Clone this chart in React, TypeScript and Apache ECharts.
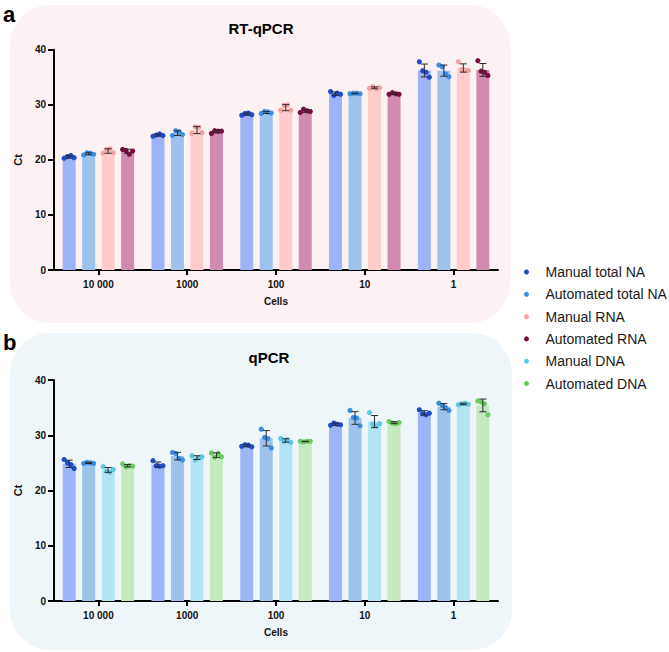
import React, { useEffect, useRef } from "react";
import * as echarts from "echarts";

const categories = ["10 000", "1000", "100", "10", "1"];

// RT-qPCR replicate Ct values (4 replicates per cell count)
const rtManualTotalNA = [
  [20.3, 20.6, 20.8, 20.4],
  [24.3, 24.5, 24.7, 24.4],
  [28.1, 28.4, 28.5, 28.2],
  [32.4, 31.7, 32.1, 31.9],
  [37.8, 36.2, 35.9, 35.0],
];
const rtAutomatedTotalNA = [
  [20.9, 21.3, 21.2, 21.0],
  [24.4, 25.3, 25.1, 24.6],
  [28.4, 28.8, 28.7, 28.5],
  [32.0, 32.1, 32.1, 32.0],
  [37.2, 36.9, 35.6, 35.1],
];
const rtManualRNA = [
  [21.2, 21.9, 22.0, 21.3],
  [24.8, 26.0, 25.9, 24.9],
  [29.0, 29.9, 30.0, 29.0],
  [33.0, 33.3, 32.9, 33.1],
  [37.8, 36.4, 36.3, 36.2],
];
const rtAutomatedRNA = [
  [21.9, 21.7, 21.0, 21.6],
  [24.8, 25.3, 25.2, 25.2],
  [28.6, 29.2, 28.9, 28.8],
  [31.9, 32.2, 32.0, 31.9],
  [38.0, 36.1, 35.9, 35.3],
];

// qPCR replicate Ct values
const qManualTotalNA = [
  [25.6, 25.0, 24.7, 24.0],
  [25.4, 24.5, 24.4, 24.5],
  [28.0, 28.3, 28.2, 27.9],
  [31.8, 32.2, 32.0, 31.9],
  [34.6, 33.9, 33.7, 34.0],
];
const qAutomatedTotalNA = [
  [24.9, 25.1, 25.0, 24.9],
  [26.9, 26.7, 25.8, 25.5],
  [31.1, 29.6, 29.4, 27.7],
  [34.5, 33.2, 33.1, 31.7],
  [35.8, 35.4, 35.0, 34.5],
];
const qManualDNA = [
  [24.3, 23.5, 23.3, 23.8],
  [26.3, 25.5, 25.9, 26.1],
  [29.4, 28.9, 29.2, 28.7],
  [34.1, 32.0, 31.7, 32.1],
  [35.5, 35.7, 35.8, 35.6],
];
const qAutomatedDNA = [
  [24.8, 24.3, 24.5, 24.4],
  [26.8, 26.0, 26.7, 26.1],
  [28.9, 28.8, 28.9, 28.9],
  [32.5, 32.2, 32.1, 32.3],
  [36.2, 36.0, 35.7, 33.7],
];

const legendNames = [
  "Manual total NA",
  "Automated total NA",
  "Manual RNA",
  "Automated RNA",
  "Manual DNA",
  "Automated DNA",
];
const dotColors: Record<string, string> = {
  "Manual total NA": "#1f4ccc",
  "Automated total NA": "#3b8ee2",
  "Manual RNA": "#f4a2a2",
  "Automated RNA": "#7a0c42",
  "Manual DNA": "#5ec6e6",
  "Automated DNA": "#6cca5e",
};
const barColors: Record<string, string> = {
  "Manual total NA": "#9db4f8",
  "Automated total NA": "#9dc3ec",
  "Manual RNA": "#ffcbcb",
  "Automated RNA": "#d18bb0",
  "Manual DNA": "#b3e4f3",
  "Automated DNA": "#c5eac0",
};

const FONT = "Liberation Sans, Arial, Helvetica, sans-serif";
const BAR_W = 13;
const BAR_STEP = 19.5;
const JITTER = [-5, -1.7, 1.7, 5];

function mean(a: number[]) {
  return a.reduce((s, v) => s + v, 0) / a.length;
}
function sd(a: number[]) {
  const m = mean(a);
  return Math.sqrt(a.reduce((s, v) => s + (v - m) * (v - m), 0) / (a.length - 1));
}

export default function App() {
  const ref = useRef<HTMLDivElement>(null);
  useEffect(() => {
    if (!ref.current) return;
    const chart = echarts.init(ref.current, undefined, { renderer: "svg" });

    const panels = [
      {
        grid: 0,
        groups: [
          ["Manual total NA", rtManualTotalNA],
          ["Automated total NA", rtAutomatedTotalNA],
          ["Manual RNA", rtManualRNA],
          ["Automated RNA", rtAutomatedRNA],
        ] as [string, number[][]][],
      },
      {
        grid: 1,
        groups: [
          ["Manual total NA", qManualTotalNA],
          ["Automated total NA", qAutomatedTotalNA],
          ["Manual DNA", qManualDNA],
          ["Automated DNA", qAutomatedDNA],
        ] as [string, number[][]][],
      },
    ];

    const series: any[] = [];
    panels.forEach((p) => {
      p.groups.forEach(([name, reps], gi) => {
        series.push({
          type: "bar",
          name,
          xAxisIndex: p.grid,
          yAxisIndex: p.grid,
          barWidth: BAR_W,
          barGap: "50%",
          itemStyle: { color: barColors[name] },
          data: reps.map((r) => +mean(r).toFixed(3)),
          z: 2,
        });
        const offset = (gi - 1.5) * BAR_STEP;
        const color = dotColors[name];
        series.push({
          type: "custom",
          name: name + " points",
          xAxisIndex: p.grid,
          yAxisIndex: p.grid,
          z: 5,
          encode: { x: 0, y: 1 },
          data: reps.map((r, ci) => {
            const m = mean(r);
            const s = sd(r);
            return [ci, m, m - s, m + s, ...r];
          }),
          renderItem: (params: any, api: any) => {
            const ci = api.value(0);
            const cx = api.coord([ci, api.value(1)])[0] + offset;
            const yLo = api.coord([ci, api.value(2)])[1];
            const yHi = api.coord([ci, api.value(3)])[1];
            const children: any[] = [];
            for (let k = 0; k < 4; k++) {
              const y = api.coord([ci, api.value(4 + k)])[1];
              children.push({
                type: "circle",
                shape: { cx: cx + JITTER[k], cy: y, r: 2.6 },
                style: { fill: color },
              });
            }
            const es = { stroke: "#2b2b2b", lineWidth: 1 };
            children.push(
              { type: "line", shape: { x1: cx, y1: yLo, x2: cx, y2: yHi }, style: es },
              { type: "line", shape: { x1: cx - 3.5, y1: yLo, x2: cx + 3.5, y2: yLo }, style: es },
              { type: "line", shape: { x1: cx - 3.5, y1: yHi, x2: cx + 3.5, y2: yHi }, style: es }
            );
            return { type: "group", children };
          },
        });
      });
    });

    const xAxisBase = (gridIndex: number) => ({
      type: "category",
      gridIndex,
      data: categories,
      name: "Cells",
      nameLocation: "middle",
      nameGap: 26,
      nameTextStyle: { fontFamily: FONT, fontWeight: "bold", fontSize: 10, color: "#111" },
      axisLine: { lineStyle: { color: "#000", width: 2 } },
      axisTick: { show: true, alignWithLabel: true, length: 5, lineStyle: { color: "#000", width: 2 } },
      axisLabel: { fontFamily: FONT, fontWeight: "bold", fontSize: 10, color: "#111", margin: 9, interval: 0 },
      splitLine: { show: false },
    });
    const yAxisBase = (gridIndex: number) => ({
      type: "value",
      gridIndex,
      min: 0,
      max: 40,
      interval: 10,
      name: "Ct",
      nameLocation: "middle",
      nameGap: 23,
      nameTextStyle: { fontFamily: FONT, fontWeight: "bold", fontSize: 11, color: "#111" },
      axisLine: { show: true, lineStyle: { color: "#000", width: 2 } },
      axisTick: { show: true, length: 6, lineStyle: { color: "#000", width: 2 } },
      axisLabel: { fontFamily: FONT, fontWeight: "bold", fontSize: 10, color: "#111", margin: 8 },
      splitLine: { show: false },
    });

    chart.setOption({
      animation: false,
      backgroundColor: "#ffffff",
      textStyle: { fontFamily: FONT },
      grid: [
        { left: 54, width: 444, top: 49.7, height: 220.3 },
        { left: 54, width: 444, top: 380, height: 221 },
      ],
      xAxis: [xAxisBase(0), xAxisBase(1)],
      yAxis: [yAxisBase(0), yAxisBase(1)],
      legend: {
        orient: "vertical",
        left: 524,
        top: 264,
        padding: 0,
        itemWidth: 28,
        itemHeight: 5,
        itemGap: 6.3,
        icon: "circle",
        selectedMode: false,
        textStyle: { fontFamily: FONT, fontSize: 14, color: "#1a1a1a", lineHeight: 16 },
        data: legendNames.map((n) => ({ name: n, itemStyle: { color: dotColors[n] } })),
      },
      graphic: [
        { type: "rect", z: -10, shape: { x: 10, y: 5, width: 500, height: 318, r: 40 }, style: { fill: "#fdf2f3" } },
        { type: "rect", z: -10, shape: { x: 10, y: 333, width: 502, height: 317, r: 40 }, style: { fill: "#eef6fa" } },
        { type: "text", z: 10, x: 3, y: 14, style: { text: "a", font: `bold 22px ${FONT}`, fill: "#000", verticalAlign: "middle" } },
        { type: "text", z: 10, x: 3, y: 342.3, style: { text: "b", font: `bold 22px ${FONT}`, fill: "#000", verticalAlign: "middle" } },
        { type: "text", z: 10, x: 261, y: 28.7, style: { text: "RT-qPCR", font: `bold 15px ${FONT}`, fill: "#000", align: "center", verticalAlign: "middle" } },
        { type: "text", z: 10, x: 269, y: 357.7, style: { text: "qPCR", font: `bold 15px ${FONT}`, fill: "#000", align: "center", verticalAlign: "middle" } },
      ],
      series,
    });
    return () => chart.dispose();
  }, []);
  return <div ref={ref} style={{ position: "fixed", left: 0, top: 0, width: 669, height: 652 }} />;
}
